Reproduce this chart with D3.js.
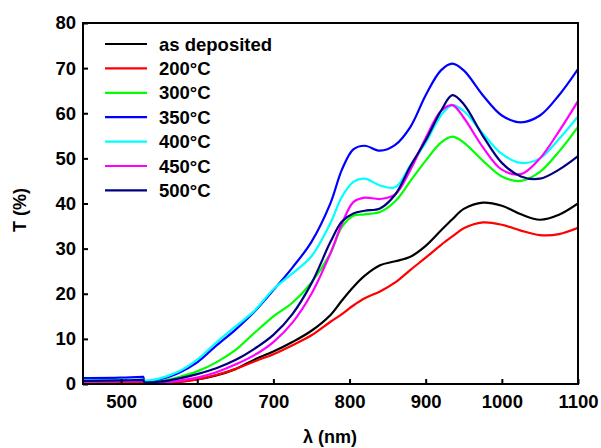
<!DOCTYPE html>
<html>
<head>
<meta charset="utf-8">
<script src="https://cdn.jsdelivr.net/npm/d3@7"></script>
<style>
  body { margin: 0; background: #fff; }
  text { font-family: "Liberation Sans", Arial, sans-serif; font-weight: bold; }
</style>
</head>
<body>
<div id="chart"></div>
<script>
var width = 601, height = 448;
var margin = {top: 23, right: 23, bottom: 64, left: 83};

// wavelength grid (nm), detector change at 530 nm (index 2 -> 3)
var wavelengths = [450, 500, 529, 531, 550, 575, 600, 625, 650, 675, 700, 725, 750, 775, 790,
                   805, 820, 840, 860, 880, 900, 920, 935, 950, 975, 1000, 1025, 1050, 1075, 1100];
var jumpIndex = 3;

var asDeposited = [0.4, 0.5, 0.6, 0.1, 0.2, 0.5, 1.0, 1.9, 3.3, 5.4, 7.2, 9.3, 11.8, 15.3, 18.5,
                   21.5, 24.0, 26.3, 27.2, 28.2, 30.6, 34.0, 36.5, 38.8, 40.2, 39.5, 37.6, 36.4, 37.5, 40.0];
var t200 = [0.3, 0.4, 0.5, 0.0, 0.1, 0.4, 1.0, 2.0, 3.3, 5.0, 6.6, 8.6, 10.8, 13.8, 15.5,
            17.4, 19.0, 20.5, 22.5, 25.3, 28.0, 30.8, 32.7, 34.5, 35.8, 35.3, 34.0, 33.0, 33.2, 34.6];
var t300 = [0.6, 0.7, 0.8, 0.4, 0.6, 1.5, 2.8, 4.8, 7.5, 11.3, 15.0, 18.0, 22.5, 29.0, 34.8,
            37.3, 37.6, 38.1, 40.5, 45.0, 49.5, 53.5, 54.8, 53.5, 49.5, 46.0, 45.0, 47.0, 51.5, 57.0];
var t350 = [1.3, 1.4, 1.6, 0.6, 1.0, 2.4, 4.8, 8.5, 12.0, 16.0, 20.8, 25.8, 31.5, 40.1, 47.5,
            52.0, 52.8, 51.7, 53.0, 57.0, 64.0, 69.5, 71.0, 69.5, 64.0, 59.5, 58.0, 59.5, 64.0, 69.8];
var t400 = [0.8, 0.9, 1.0, 0.7, 1.2, 2.7, 5.4, 9.2, 12.7, 16.2, 21.0, 24.5, 28.3, 35.7, 41.5,
            44.8, 45.5, 44.0, 43.6, 48.5, 53.5, 59.5, 61.8, 60.5, 55.5, 51.0, 49.0, 50.0, 54.3, 59.3];
var t450 = [0.5, 0.6, 0.7, 0.2, 0.3, 0.7, 1.4, 2.6, 4.3, 6.4, 9.3, 13.6, 20.0, 29.0, 35.5,
            40.3, 41.3, 41.0, 42.0, 47.5, 54.5, 60.5, 61.8, 59.0, 52.5, 47.5, 46.5, 50.0, 56.0, 62.7];
var t500 = [0.7, 0.8, 0.9, 0.3, 0.5, 1.2, 2.2, 3.5, 5.3, 7.8, 10.9, 15.5, 22.3, 31.5, 36.0,
            37.8, 38.4, 38.9, 42.0, 48.3, 54.0, 60.5, 64.0, 62.0, 55.0, 49.0, 46.0, 45.5, 47.5, 50.5];

var seriesNames = ["as deposited", "200°C", "300°C", "350°C", "400°C", "450°C", "500°C"];
var seriesValues = [asDeposited, t200, t300, t350, t400, t450, t500];
var seriesColors = ["#000000", "#ff0000", "#00ff00", "#0000ff", "#00ffff", "#ff00ff", "#000080"];

var xTicks = [500, 600, 700, 800, 900, 1000, 1100];
var yTicks = [0, 10, 20, 30, 40, 50, 60, 70, 80];

var svg = d3.select("#chart").append("svg")
    .attr("width", width)
    .attr("height", height);

var x = d3.scaleLinear().domain([450, 1100]).range([margin.left, width - margin.right]);
var y = d3.scaleLinear().domain([0, 80]).range([height - margin.bottom, margin.top]);

svg.append("clipPath").attr("id", "plot")
    .append("rect")
    .attr("x", margin.left).attr("y", margin.top)
    .attr("width", width - margin.left - margin.right)
    .attr("height", height - margin.top - margin.bottom);

var line = d3.line()
    .x(function (d) { return x(d[0]); })
    .y(function (d) { return y(d[1]); })
    .curve(d3.curveCatmullRom.alpha(0.5));

function seriesPath(vals) {
    var pts = wavelengths.map(function (w, i) { return [w, vals[i]]; });
    var a = line(pts.slice(0, jumpIndex));
    var b = line(pts.slice(jumpIndex));
    return a + "L" + b.slice(1);
}

svg.append("g").attr("clip-path", "url(#plot)")
    .selectAll("path")
    .data(seriesValues)
    .enter()
    .append("path")
    .attr("d", seriesPath)
    .style("fill", "none")
    .style("stroke", function (d, i) { return seriesColors[i]; })
    .style("stroke-width", 2.2);

// axes: ticks point inward
var xMinor = d3.range(450, 1101, 50);
var yMinor = d3.range(0, 81, 5);

var xAxis = svg.append("g").attr("transform", "translate(0," + (height - margin.bottom) + ")");
xAxis.call(d3.axisBottom(x).tickValues(xMinor).tickSizeInner(-3).tickSizeOuter(0).tickFormat(""));
xAxis.call(d3.axisBottom(x).tickValues(xTicks).tickSizeInner(-5).tickSizeOuter(0)
    .tickPadding(11).tickFormat(d3.format("d")));

var yAxis = svg.append("g").attr("transform", "translate(" + margin.left + ",0)");
yAxis.call(d3.axisLeft(y).tickValues(yMinor).tickSizeInner(-3).tickSizeOuter(0).tickFormat(""));
yAxis.call(d3.axisLeft(y).tickValues(yTicks).tickSizeInner(-5).tickSizeOuter(0)
    .tickPadding(7).tickFormat(d3.format("d")));

svg.selectAll(".tick line").style("stroke", "#000").style("stroke-width", 2);
svg.selectAll(".domain").remove();
svg.selectAll(".tick text")
    .style("font-size", "18.5px")
    .style("fill", "#000");

// frame
svg.append("rect")
    .attr("x", margin.left).attr("y", margin.top)
    .attr("width", width - margin.left - margin.right)
    .attr("height", height - margin.top - margin.bottom)
    .style("fill", "none")
    .style("stroke", "#000")
    .style("stroke-width", 2);

// axis titles
svg.append("text")
    .attr("x", 330)
    .attr("y", 443)
    .attr("text-anchor", "middle")
    .style("font-size", "18px")
    .text("λ (nm)");

svg.append("text")
    .attr("transform", "translate(26,210) rotate(-90)")
    .attr("text-anchor", "middle")
    .style("font-size", "18px")
    .text("T (%)");

// legend
var legend = svg.append("g").selectAll("g")
    .data(seriesNames)
    .enter()
    .append("g")
    .attr("transform", function (d, i) { return "translate(105," + (44 + i * 24.4) + ")"; });

legend.append("line")
    .attr("x1", 0).attr("x2", 42)
    .attr("y1", 0).attr("y2", 0)
    .style("stroke", function (d, i) { return seriesColors[i]; })
    .style("stroke-width", 2.2);

legend.append("text")
    .attr("x", 54)
    .attr("y", 6.5)
    .style("font-size", "18.5px")
    .text(function (d) { return d; });
</script>
</body>
</html>
